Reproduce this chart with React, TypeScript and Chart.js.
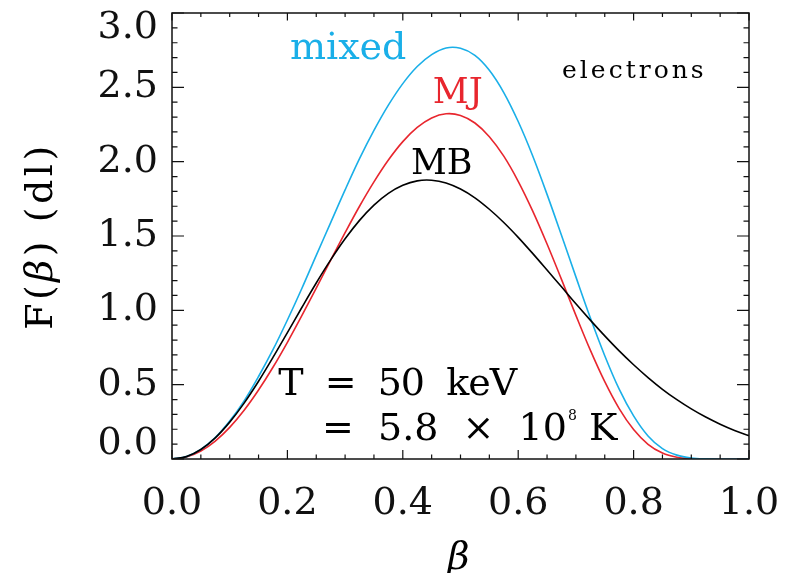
import React, { useEffect, useRef } from 'react';
import { Chart, registerables } from 'chart.js';

Chart.register(...registerables);

// ---- data ----
const beta = [
  0, 0.025, 0.05, 0.075, 0.1, 0.125, 0.15, 0.175, 0.2, 0.225,
  0.25, 0.275, 0.3, 0.325, 0.35, 0.375, 0.4, 0.425, 0.45, 0.475,
  0.5, 0.525, 0.55, 0.575, 0.6, 0.625, 0.65, 0.675, 0.7, 0.725,
  0.75, 0.775, 0.8, 0.825, 0.85, 0.875, 0.9, 0.925, 0.95, 0.975, 1.0,
];
const mbValues = [
  0, 0.016, 0.064, 0.142, 0.248, 0.376, 0.523, 0.683, 0.85, 1.019,
  1.184, 1.339, 1.481, 1.605, 1.708, 1.787, 1.841, 1.871, 1.875, 1.857,
  1.816, 1.757, 1.68, 1.591, 1.491, 1.383, 1.271, 1.158, 1.044, 0.934,
  0.828, 0.727, 0.634, 0.548, 0.469, 0.399, 0.337, 0.282, 0.234, 0.192, 0.157,
];
const mjValues = [
  0, 0.014, 0.054, 0.121, 0.213, 0.328, 0.464, 0.617, 0.785, 0.964,
  1.15, 1.337, 1.522, 1.7, 1.864, 2.011, 2.135, 2.23, 2.294, 2.322,
  2.311, 2.26, 2.168, 2.037, 1.868, 1.669, 1.446, 1.208, 0.966, 0.732,
  0.52, 0.339, 0.198, 0.099, 0.04, 0.012, 0.002, 0, 0, 0, 0,
];
const mixedValues = [
  0, 0.016, 0.065, 0.144, 0.255, 0.391, 0.555, 0.735, 0.935, 1.147,
  1.37, 1.59, 1.81, 2.02, 2.21, 2.38, 2.525, 2.64, 2.72, 2.765,
  2.763, 2.715, 2.615, 2.465, 2.27, 2.04, 1.78, 1.505, 1.225, 0.95,
  0.695, 0.47, 0.29, 0.155, 0.07, 0.026, 0.007, 0.001, 0, 0, 0,
];

const xTickValues = [0, 0.2, 0.4, 0.6, 0.8, 1.0];
const yTickValues = [0, 0.5, 1.0, 1.5, 2.0, 2.5, 3.0];
const xMinorStep = 0.05;
const yMinorStep = 0.1;

const CYAN = '#1aafe8';
const RED = '#e8262e';
const BLACK = '#000000';
const FAMILY = '"DejaVu Serif", serif';

type Label = { text: string; x: number; y: number; color: string; size: number; spacing: number };
const labels: Label[] = [
  { text: 'mixed', x: 0.2045, y: 2.69, color: CYAN, size: 38, spacing: 0 },
  { text: 'MJ', x: 0.452, y: 2.396, color: RED, size: 35, spacing: 0 },
  { text: 'MB', x: 0.414, y: 1.919, color: BLACK, size: 35, spacing: 0 },
  { text: 'electrons', x: 0.676, y: 2.564, color: BLACK, size: 25, spacing: 3 },
  { text: 'T  =  50  keV', x: 0.184, y: 0.43, color: BLACK, size: 38, spacing: -1 },
];
const line2 = { x: 0.26, y: 0.128, main: '=  5.8  \u00d7  10', sup: '8', tail: ' K' };

const decor = {
  id: 'decor',
  afterDatasetsDraw(chart: any) {
    const { ctx, chartArea: a, scales } = chart;
    const xs = scales.x;
    const ys = scales.y;
    ctx.save();
    ctx.strokeStyle = '#111';
    ctx.lineWidth = 1.5;
    ctx.strokeRect(a.left, a.top, a.right - a.left, a.bottom - a.top);
    ctx.lineWidth = 1.2;
    ctx.beginPath();
    const nx = Math.round(1 / xMinorStep);
    for (let i = 0; i <= nx; i++) {
      const v = i * xMinorStep;
      const px = xs.getPixelForValue(v);
      const major = xTickValues.some((t) => Math.abs(t - v) < 1e-6);
      const lb = major ? 9 : 4.5;
      const lt = major ? 7.5 : 4;
      ctx.moveTo(px, a.bottom);
      ctx.lineTo(px, a.bottom - lb);
      ctx.moveTo(px, a.top);
      ctx.lineTo(px, a.top + lt);
    }
    const ny = Math.round(3 / yMinorStep);
    for (let i = 0; i <= ny; i++) {
      const v = i * yMinorStep;
      const py = ys.getPixelForValue(v);
      const major = yTickValues.some((t) => Math.abs(t - v) < 1e-6);
      const l = major ? 12 : 5.5;
      ctx.moveTo(a.left, py);
      ctx.lineTo(a.left + l, py);
      ctx.moveTo(a.right, py);
      ctx.lineTo(a.right - l, py);
    }
    ctx.stroke();

    // text labels
    ctx.textBaseline = 'alphabetic';
    ctx.textAlign = 'left';
    for (const l of labels) {
      ctx.font = `${l.size}px ${FAMILY}`;
      ctx.fillStyle = l.color;
      (ctx as any).letterSpacing = `${l.spacing}px`;
      ctx.fillText(l.text, xs.getPixelForValue(l.x), ys.getPixelForValue(l.y));
    }
    (ctx as any).letterSpacing = '0px';
    {
      let px = xs.getPixelForValue(line2.x);
      const py = ys.getPixelForValue(line2.y);
      ctx.fillStyle = BLACK;
      ctx.font = `38px ${FAMILY}`;
      ctx.fillText(line2.main, px, py);
      px += ctx.measureText(line2.main).width + 1;
      ctx.font = `14px ${FAMILY}`;
      ctx.fillText(line2.sup, px, py - 20);
      px += ctx.measureText(line2.sup).width;
      ctx.font = `38px ${FAMILY}`;
      ctx.fillText(line2.tail, px, py);
    }

    // x title
    ctx.font = `italic 38px ${FAMILY}`;
    ctx.textAlign = 'center';
    ctx.fillText('\u03b2', (a.left + a.right) / 2 - 2, a.bottom + 110);

    // y title (rotated, mixed fonts)
    const parts = [
      { t: 'F(', f: `38px ${FAMILY}` },
      { t: '\u03b2', f: `italic 38px ${FAMILY}` },
      { t: ') (dl)', f: `38px ${FAMILY}` },
    ];
    ctx.textAlign = 'left';
    (ctx as any).letterSpacing = '3.5px';
    let total = 0;
    const widths: number[] = [];
    for (const p of parts) {
      ctx.font = p.f;
      const w = ctx.measureText(p.t).width;
      widths.push(w);
      total += w;
    }
    ctx.translate(44, (a.top + a.bottom) / 2);
    ctx.rotate(-Math.PI / 2);
    let cx = -total / 2;
    parts.forEach((p, i) => {
      ctx.font = p.f;
      ctx.fillText(p.t, cx, 0);
      cx += widths[i];
    });
    (ctx as any).letterSpacing = '0px';
    ctx.restore();
  },
};

export default function App() {
  const ref = useRef<HTMLCanvasElement>(null);
  useEffect(() => {
    document.body.style.overflow = 'hidden';
    const mk = (vals: number[]) => beta.map((b, i) => ({ x: b, y: vals[i] }));
    const common = { borderWidth: 1.6, pointRadius: 0, tension: 0.35, fill: false };
    const chart = new Chart(ref.current as HTMLCanvasElement, {
      type: 'line',
      data: {
        datasets: [
          { label: 'MB', data: mk(mbValues), borderColor: BLACK, ...common },
          { label: 'mixed', data: mk(mixedValues), borderColor: CYAN, ...common },
          { label: 'MJ', data: mk(mjValues), borderColor: RED, ...common },
        ],
      },
      options: {
        animation: false,
        responsive: true,
        maintainAspectRatio: false,
        layout: { padding: { top: 5, right: 32, left: 0, bottom: 0 } },
        plugins: { legend: { display: false }, tooltip: { enabled: false } },
        scales: {
          x: {
            type: 'linear',
            min: 0,
            max: 1,
            afterBuildTicks: (s: any) => { s.ticks = xTickValues.map((v) => ({ value: v })); },
            ticks: {
              color: '#111',
              padding: 30,
              maxRotation: 0,
              font: { family: FAMILY, size: 38, lineHeight: 0.8 },
              callback: (v: any) => Number(v).toFixed(1),
            },
            grid: { display: false, drawTicks: false },
            border: { display: false },
            afterFit: (s: any) => { s.height = 122; s.paddingLeft = 0; s.paddingRight = 0; s.paddingTop = 0; s.paddingBottom = 0; },
          },
          y: {
            type: 'linear',
            min: 0,
            max: 3,
            afterBuildTicks: (s: any) => { s.ticks = yTickValues.map((v) => ({ value: v })); },
            ticks: {
              color: '#111',
              padding: 14,
              font: { family: FAMILY, size: 38, lineHeight: 0.8 },
              callback: (v: any) => {
                const s = Number(v).toFixed(1);
                if (Number(v) === 0) return [s, ''];
                if (Number(v) === 3) return ['', s];
                return s;
              },
            },
            grid: { display: false, drawTicks: false },
            border: { display: false },
            afterFit: (s: any) => { s.width = 164; s.paddingLeft = 0; s.paddingRight = 0; s.paddingTop = 0; s.paddingBottom = 0; },
          },
        },
      },
      plugins: [decor],
    } as any);
    return () => chart.destroy();
  }, []);
  return (
    <div style={{ width: 773, height: 573, marginBottom: -8, position: 'relative' }}>
      <canvas ref={ref} />
    </div>
  );
}
